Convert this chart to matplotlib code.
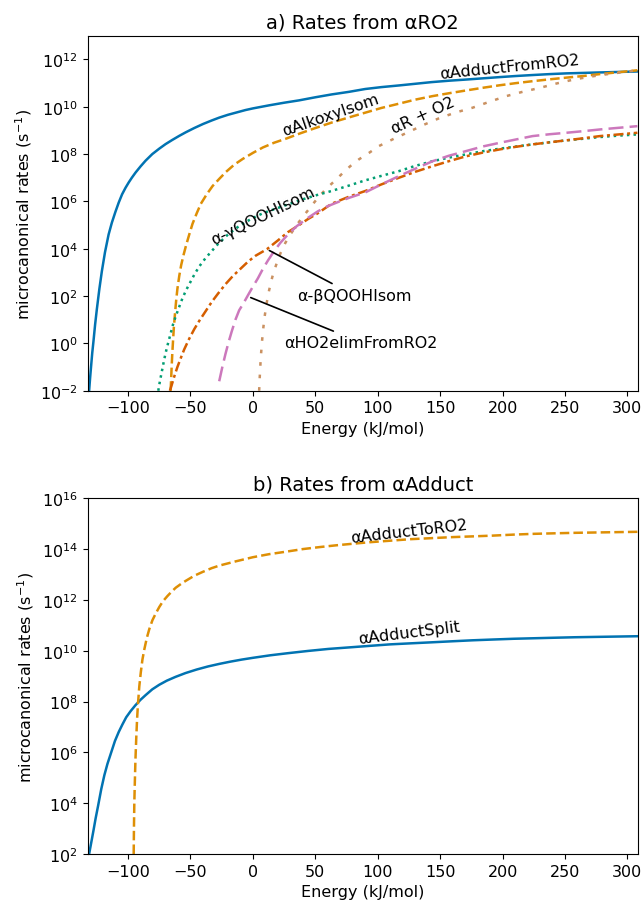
import numpy as np
import matplotlib
matplotlib.use("Agg")
import matplotlib.pyplot as plt
from matplotlib.ticker import NullLocator, LogFormatterMathtext

# seaborn "colorblind" palette colours
BLUE = "#0173b2"
ORANGE = "#de8f05"
GREEN = "#029e73"
RED = "#d55e00"
PINK = "#cc78bc"
TAN = "#ca9161"

# energies in kJ/mol, rates stored as log10(k / s^-1)

# ---- a) rates from alpha-RO2 ----
adduct_from_ro2_e = [-131.2, -130.4, -129.6, -128.7, -127.7, -126.4, -125, -123, -121, -118.5,
                     -115.6, -113, -110.2, -107.5, -104.8, -102, -99.5, -97, -94, -90, -86,
                     -80.6, -75, -70, -64.5, -59, -53.8, -47, -40, -33, -27, -20, -13, -6, 0,
                     13, 25, 37, 50, 63, 77, 90, 103, 117, 130, 143, 157, 171, 184, 197, 211,
                     224, 238, 251, 265, 278, 293, 308]
adduct_from_ro2_lg = [-2.0, -1.45, -0.95, -0.4, 0.1, 0.8, 1.45, 2.3, 3.05, 3.85,
                      4.6, 5.1, 5.55, 5.95, 6.3, 6.58, 6.8, 7.0, 7.22, 7.48, 7.72,
                      8.0, 8.23, 8.42, 8.6, 8.77, 8.92, 9.1, 9.27, 9.42, 9.54, 9.66, 9.76, 9.86,
                      9.93, 10.06, 10.17, 10.27, 10.4, 10.52, 10.63, 10.75, 10.83, 10.9, 10.97,
                      11.04, 11.1, 11.15, 11.2, 11.25, 11.3, 11.34, 11.38, 11.41, 11.43, 11.45,
                      11.47, 11.49]

alkoxy_isom_e = [-65.9, -65.5, -65.1, -64.6, -64, -63.3, -62.4, -61.5, -60.5, -59, -57.5,
                 -55.5, -53.5, -51, -48.4, -45, -41.7, -37, -32.3, -27, -21.5, -15, -8, 0, 8,
                 17, 27, 37.6, 50, 63, 77, 90, 103, 117, 130, 144, 157, 171, 184, 198, 211,
                 224, 238, 251, 265, 278, 293, 308]
alkoxy_isom_lg = [-2.0, -1.5, -1.0, -0.45, 0.1, 0.7, 1.27, 1.8, 2.3, 2.85, 3.3,
                  3.75, 4.15, 4.6, 5.05, 5.5, 5.9, 6.3, 6.65, 6.95, 7.25, 7.55, 7.8, 8.05, 8.28,
                  8.48, 8.66, 8.87, 9.1, 9.33, 9.55, 9.75, 9.95, 10.13, 10.3, 10.45, 10.57,
                  10.69, 10.8, 10.91, 11.0, 11.08, 11.16, 11.23, 11.3, 11.38, 11.46, 11.54]

r_plus_o2_e = [5, 5.5, 6.2, 7, 8, 9.3, 11, 13, 15.5, 18.5, 22, 26, 30, 35, 40, 46, 52, 59,
               66, 72, 78, 85, 93, 101, 113, 125, 137, 149, 162, 176, 190, 203, 216, 230,
               243, 257, 270, 283, 296, 308]
r_plus_o2_lg = [-2.0, -1.4, -0.7, -0.1, 0.5, 1.1, 1.7, 2.25, 2.8, 3.3, 3.8, 4.25, 4.6, 5.0,
                5.35, 5.75, 6.15, 6.55, 6.89, 7.2, 7.49, 7.78, 8.05, 8.34, 8.65, 8.94, 9.24,
                9.51, 9.75, 9.96, 10.22, 10.45, 10.63, 10.8, 10.98, 11.15, 11.27, 11.37,
                11.46, 11.54]

gamma_qooh_e = [-75.8, -74.5, -73, -71.5, -70, -68, -65.9, -64, -61.8, -59, -56.5, -53.5,
                -51, -47, -43, -38, -33, -28, -20, -12, -5, 0, 8, 16, 24.2, 37.6, 50, 63,
                77, 90, 103, 117, 130, 144, 157, 171, 184, 198, 211, 224, 238, 251, 265,
                278, 293, 308]
gamma_qooh_lg = [-2.0, -1.6, -1.2, -0.8, -0.42, 0.0, 0.42, 0.8, 1.15, 1.55, 1.9, 2.25,
                 2.5, 2.9, 3.25, 3.6, 3.9, 4.2, 4.6, 4.92, 5.15, 5.3, 5.5, 5.65, 5.8, 6.05,
                 6.25, 6.44, 6.67, 6.89, 7.08, 7.28, 7.5, 7.7, 7.85, 7.99, 8.12, 8.23, 8.32,
                 8.41, 8.5, 8.58, 8.65, 8.72, 8.78, 8.83]

beta_qooh_e = [-66.5, -65, -63, -60.5, -58, -55, -51, -47, -43, -38, -33, -28, -22, -16,
               -10, -4, 2, 11.2, 20, 28, 37, 44, 52, 63, 77, 90, 103, 117, 130, 144, 157,
               171, 184, 198, 211, 224, 238, 251, 265, 278, 293, 308]
beta_qooh_lg = [-2.0, -1.75, -1.4, -1.0, -0.65, -0.25, 0.2, 0.6, 0.95, 1.35, 1.75, 2.1,
                2.5, 2.85, 3.15, 3.45, 3.7, 3.98, 4.35, 4.7, 5.0, 5.25, 5.5, 5.9, 6.2, 6.44,
                6.72, 7.0, 7.25, 7.49, 7.7, 7.91, 8.06, 8.2, 8.31, 8.41, 8.5, 8.58, 8.67,
                8.76, 8.83, 8.9]

ho2_elim_e = [-27, -24.5, -22, -19.5, -17, -14, -11, -7.5, -3.8, 0, 4, 8, 12, 17, 22, 28,
              35, 44, 52, 60, 68.5, 77, 90, 103, 117, 130, 144, 157, 171, 184, 198, 211,
              224, 238, 251, 265, 278, 293, 308]
ho2_elim_lg = [-1.6, -1.0, -0.45, 0.05, 0.5, 1.0, 1.4, 1.7, 2.05, 2.4, 2.75, 3.15, 3.5,
               3.9, 4.25, 4.6, 4.95, 5.3, 5.58, 5.8, 5.98, 6.15, 6.38, 6.72, 7.07, 7.38,
               7.7, 7.93, 8.13, 8.32, 8.48, 8.62, 8.76, 8.84, 8.9, 8.97, 9.04, 9.11, 9.18]

# ---- b) rates from alpha-adduct ----
adduct_split_e = [-131.2, -129.5, -127.8, -126, -124, -121.5, -119, -116.5, -113.5, -110.5,
                  -107.5, -104.5, -101.5, -98, -94, -90, -86, -80.6, -75, -69, -62, -54,
                  -45, -36, -27, -18, -9, 0, 14, 27.6, 44, 60.5, 77, 93.4, 110, 126.3, 143,
                  159.2, 176, 192.1, 209, 225, 241, 258, 283, 308]
adduct_split_lg = [2.0, 2.45, 2.9, 3.4, 3.9, 4.55, 5.1, 5.55, 6.0, 6.45,
                   6.8, 7.1, 7.38, 7.62, 7.86, 8.07, 8.25, 8.48, 8.66, 8.82, 8.97, 9.12,
                   9.26, 9.38, 9.48, 9.57, 9.65, 9.72, 9.82, 9.9, 9.99, 10.07, 10.13, 10.19,
                   10.25, 10.29, 10.33, 10.37, 10.41, 10.44, 10.47, 10.49, 10.51, 10.53,
                   10.55, 10.57]

adduct_to_ro2_e = [-95.5, -95.3, -95, -94.6, -94.1, -93.5, -92.8, -92, -91, -89.8, -88.5,
                   -87, -85, -83, -80.5, -78, -75, -72, -68.5, -65, -61.8, -57, -53.8, -47,
                   -40.3, -33, -26.9, -13.5, 0, 13, 26.9, 40, 53.7, 67, 80, 93.4, 110,
                   126.3, 143, 159.2, 176, 192.1, 209, 225, 241, 258, 283, 308]
adduct_to_ro2_lg = [2.0, 3.0, 4.0, 4.8, 5.7, 6.5, 7.3, 7.95, 8.6, 9.15, 9.65,
                    10.05, 10.5, 10.85, 11.2, 11.45, 11.72, 11.95, 12.15, 12.33, 12.48,
                    12.65, 12.75, 12.95, 13.1, 13.25, 13.35, 13.52, 13.68, 13.8, 13.9, 14.0,
                    14.08, 14.15, 14.21, 14.27, 14.33, 14.39, 14.43, 14.47, 14.5, 14.53,
                    14.57, 14.6, 14.62, 14.64, 14.66, 14.68]

xticks = [-100, -50, 0, 50, 100, 150, 200, 250, 300]

plt.rcParams["font.size"] = 11.5
plt.rcParams["lines.linewidth"] = 1.8

fig = plt.figure(figsize=(6.42, 9.03), dpi=100)
ax_a = fig.add_axes([0.1363, 0.5662, 0.8575, 0.3931])
ax_b = fig.add_axes([0.1363, 0.0532, 0.8575, 0.3939])


def rate(lg):
    return 10.0 ** np.asarray(lg)


# panel a
ax_a.plot(adduct_from_ro2_e, rate(adduct_from_ro2_lg), color=BLUE, ls="-")
ax_a.plot(alkoxy_isom_e, rate(alkoxy_isom_lg), color=ORANGE, dashes=(3.8, 1.65))
ax_a.plot(r_plus_o2_e, rate(r_plus_o2_lg), color=TAN, dashes=(1.45, 3.55))
ax_a.plot(gamma_qooh_e, rate(gamma_qooh_lg), color=GREEN, dashes=(1.0, 1.65))
ax_a.plot(beta_qooh_e, rate(beta_qooh_lg), color=RED, dashes=(4.0, 1.45, 1.2, 1.45))
ax_a.plot(ho2_elim_e, rate(ho2_elim_lg), color=PINK, dashes=(6.0, 2.45))

ax_a.text(205.6, 10 ** 11.72, "αAdductFromRO2", rotation=5.8, ha="center", va="center",
          rotation_mode="anchor")
ax_a.text(62, 10 ** 9.68, "αAlkoxyIsom", rotation=19, ha="center", va="center",
          rotation_mode="anchor")
ax_a.text(136.4, 10 ** 9.68, "αR + O2", rotation=24.5, ha="center", va="center",
          rotation_mode="anchor")
ax_a.text(8.0, 10 ** 5.42, "α-γQOOHIsom", rotation=26, ha="center", va="center",
          rotation_mode="anchor")
ax_a.annotate("α-βQOOHIsom", xy=(11.2, 10 ** 3.98), xytext=(81, 10 ** 2.04),
              ha="center", va="center", arrowprops=dict(arrowstyle="-", color="black", lw=1.2))
ax_a.annotate("αHO2elimFromRO2", xy=(-3.8, 10 ** 1.98), xytext=(86.8, 10 ** 0.04),
              ha="center", va="center", arrowprops=dict(arrowstyle="-", color="black", lw=1.2))

ax_a.set_yscale("log")
ax_a.set_xlim(-132.5, 308.5)
ax_a.set_ylim(1e-2, 1e13)
ax_a.set_yticks([10.0 ** k for k in range(-2, 13, 2)])
ax_a.set_title("a) Rates from αRO2", fontsize=14)

# panel b
ax_b.plot(adduct_split_e, rate(adduct_split_lg), color=BLUE, ls="-")
ax_b.plot(adduct_to_ro2_e, rate(adduct_to_ro2_lg), color=ORANGE, dashes=(3.8, 1.65))

ax_b.text(125, 10 ** 14.72, "αAdductToRO2", rotation=6.5, ha="center", va="center",
          rotation_mode="anchor")
ax_b.text(125, 10 ** 10.72, "αAdductSplit", rotation=7, ha="center", va="center",
          rotation_mode="anchor")

ax_b.set_yscale("log")
ax_b.set_xlim(-132.5, 308.5)
ax_b.set_ylim(1e2, 1e16)
ax_b.set_yticks([10.0 ** k for k in range(2, 17, 2)])
ax_b.set_title("b) Rates from αAdduct", fontsize=14)

for ax in (ax_a, ax_b):
    ax.set_xticks(xticks)
    ax.yaxis.set_major_formatter(LogFormatterMathtext())
    ax.yaxis.set_minor_locator(NullLocator())
    ax.set_xlabel("Energy (kJ/mol)")
    ax.set_ylabel("microcanonical rates (s$^{-1}$)")

fig.savefig("out.png", dpi=100)
